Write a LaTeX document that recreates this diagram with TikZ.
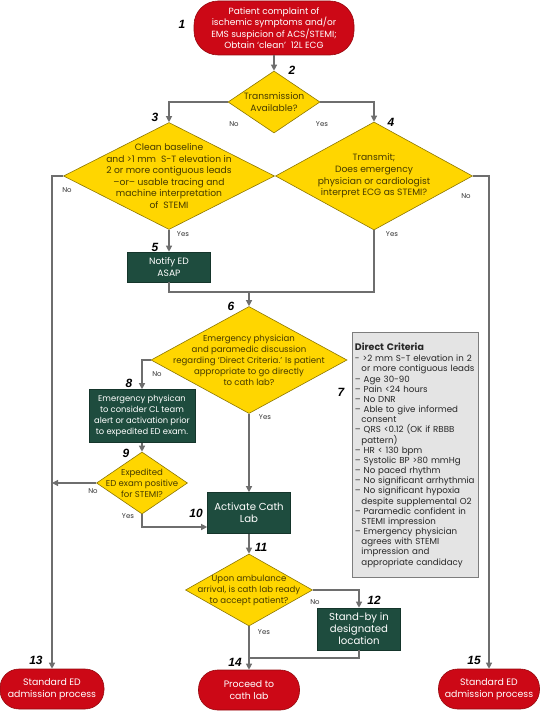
\documentclass[tikz,border=0pt]{standalone}
\usepackage{fontspec}
\setmainfont{Poppins}
\newfontfamily\numfont{Liberation Sans}
\usetikzlibrary{shapes.geometric, arrows.meta}

\definecolor{termred}{RGB}{204,8,22}
\definecolor{termedge}{RGB}{150,10,15}
\definecolor{decyellow}{RGB}{255,214,0}
\definecolor{decedge}{RGB}{140,118,0}
\definecolor{decink}{RGB}{70,58,0}
\definecolor{actgreen}{RGB}{30,76,62}
\definecolor{critgray}{RGB}{228,228,228}
\definecolor{critedge}{RGB}{125,125,125}
\definecolor{flowgray}{RGB}{110,110,110}

\newcommand{\critind}{\hspace*{6.5bp}}

\tikzstyle{nodetext}=[align=center, font=\fontsize{9.2}{11.6}\selectfont]
\tikzstyle{terminal}=[nodetext, rectangle, rounded corners=19bp, draw=termedge, fill=termred, text=white, line width=0.6bp, minimum width=101bp, minimum height=40bp, inner sep=2bp, font=\fontsize{9.4}{11.8}\selectfont]
\tikzstyle{decision}=[diamond, draw=decedge, fill=decyellow, line width=0.6bp, inner sep=0pt]
\tikzstyle{dectext}=[nodetext, text=decink, inner sep=0pt]
\tikzstyle{action}=[nodetext, rectangle, draw=actgreen!70!black, fill=actgreen, text=white, line width=0.6bp, inner sep=2bp]
\tikzstyle{criteria}=[rectangle, draw=critedge, fill=critgray, line width=0.9bp, align=left, text width=121bp, inner sep=2.5bp, font=\fontsize{8.7}{10.2}\selectfont, text=black!85]
\tikzstyle{steplabel}=[inner sep=0pt, font=\numfont\fontsize{12}{12}\selectfont\bfseries\itshape]
\tikzstyle{answer}=[inner sep=0pt, text=black!80, font=\fontsize{7}{8}\selectfont]
\tikzstyle{flow}=[draw=flowgray, line width=1.2bp]
\tikzstyle{flowarrow}=[flow, -{Triangle[length=6bp, width=6bp]}]

\begin{document}
\begin{tikzpicture}[x=1bp, y=-1bp]
  \useasboundingbox (0,0) rectangle (540,712);

  % Terminals
  \node (start) [terminal, minimum width=160bp, minimum height=54bp, rounded corners=24bp, font=\fontsize{9}{11.6}\selectfont] at (274,28) {Patient complaint of\\ischemic symptoms and/or\\EMS suspicion of ACS/STEMI;\\Obtain ‘clean’\ \ 12L ECG};
  \node (stdleft) [terminal, minimum width=104bp] at (52,689) {Standard ED\\admission process};
  \node (proceed) [terminal] at (249,690) {Proceed to\\cath lab};
  \node (stdright) [terminal] at (489,689) {Standard ED\\admission process};

  % Decisions
  \node (trans) [decision, minimum width=92bp, minimum height=62bp] at (274,102) {};
  \node (transtext) [dectext] at (trans) {Transmission\\Available?};
  \node (clean) [decision, minimum width=211bp, minimum height=107bp] at (169,176) {};
  \node (cleantext) [dectext] at (clean) {Clean baseline\\and >1 mm\ \ S-T elevation in\\2 or more contiguous leads\\–or– usable tracing and\\machine interpretation\\of\ \ STEMI};
  \node (transmit) [decision, minimum width=197bp, minimum height=108bp] at (374,176) {};
  \node (transmittext) [dectext] at (transmit) {Transmit;\\Does emergency\\physician or cardiologist\\interpret ECG as STEMI?};
  \node (discuss) [decision, minimum width=196bp, minimum height=107bp] at (249,360) {};
  \node (discusstext) [dectext, font=\fontsize{8.6}{11}\selectfont] at (discuss) {Emergency physician\\and paramedic discussion\\regarding ‘Direct Criteria.’ Is patient\\appropriate to go directly\\to cath lab?};
  \node (expedited) [decision, minimum width=91bp, minimum height=62bp] at (142,483) {};
  \node (expeditedtext) [dectext, font=\fontsize{8.6}{11}\selectfont] at (expedited) {Expedited\\ED exam positive\\for STEMI?};
  \node (ready) [decision, minimum width=127bp, minimum height=72bp] at (249,590) {};
  \node (readytext) [dectext, font=\fontsize{8.6}{11}\selectfont] at (ready) {Upon ambulance\\arrival, is cath lab ready\\to accept patient?};

  % Actions
  \node (notify) [action, minimum width=83bp, minimum height=30bp] at (169,267) {Notify ED\\ASAP};
  \node (consider) [action, minimum width=106bp, minimum height=53bp, font=\fontsize{8.4}{10.8}\selectfont] at (142,416) {Emergency physican\\to consider CL team\\alert or activation prior\\to expedited ED exam.};
  \node (activate) [action, minimum width=83bp, minimum height=41bp, font=\fontsize{10.2}{12}\selectfont] at (249,513) {Activate Cath\\Lab};
  \node (standby) [action, minimum width=83bp, minimum height=42bp, font=\fontsize{10.2}{12}\selectfont] at (359,629) {Stand-by in\\designated\\location};

  % Criteria
  \node (direct) [criteria, anchor=north west, minimum height=245bp] at (352,332) {{\fontsize{9.5}{12}\selectfont\bfseries Direct Criteria}\\[1.5bp]
    - >2 mm S-T elevation in 2\\ \critind or more contiguous leads\\
    – Age 30-90\\
    – Pain <24 hours\\
    – No DNR\\
    – Able to give informed\\ \critind consent\\
    – QRS <0.12 (OK if RBBB\\ \critind pattern)\\
    – HR < 130 bpm\\
    – Systolic BP >80 mmHg\\
    – No paced rhythm\\
    – No significant arrhythmia\\
    – No significant hypoxia\\ \critind despite supplemental O2\\
    – Paramedic confident in\\ \critind STEMI impression\\
    – Emergency physician\\ \critind agrees with STEMI\\ \critind impression and\\ \critind appropriate candidacy};

  % Step numbers
  \foreach \n/\x/\y in {1/182/24, 2/292/70, 3/155/117, 4/391/122, 5/155/247, 6/231/306, 7/341/392, 8/129/383,
                        9/126/453, 10/196/513, 11/261/547, 12/374/600, 13/36/660, 14/235/662, 15/474/660}
    \node (num\n) [steplabel] at (\x,\y) {\n};

  % Answers
  \node (transno) [answer] at (234,124) {No};
  \node (transyes) [answer] at (322,124) {Yes};
  \node (cleanno) [answer] at (67,190) {No};
  \node (cleanyes) [answer] at (183,234) {Yes};
  \node (transmitno) [answer] at (466,196) {No};
  \node (transmityes) [answer] at (392,234) {Yes};
  \node (discussno) [answer] at (157,374) {No};
  \node (discussyes) [answer] at (265,417) {Yes};
  \node (expeditedno) [answer] at (93,491) {No};
  \node (expeditedyes) [answer] at (128,516) {Yes};
  \node (readyno) [answer] at (315,602) {No};
  \node (readyyes) [answer] at (264,632) {Yes};

  % Arrows
  \coordinate (merge) at (249,292);
  \coordinate (rejoin) at (249,658);
  \draw [flowarrow] (start) -- (trans);
  \draw [flowarrow] (trans.west) -| (clean.north);
  \draw [flowarrow] (trans.east) -| (transmit.north);
  \draw [flowarrow] (clean.west) -| (stdleft.north);
  \draw [flowarrow] (transmit.east) -| (stdright.north);
  \draw [flowarrow] (clean) -- (notify);
  \draw [flow] (notify.south) |- (merge) -| (transmit.south);
  \draw [flowarrow] (merge) -- (discuss.north);
  \draw [flowarrow] (discuss.west) -| (consider.north);
  \draw [flowarrow] (discuss) -- (activate);
  \draw [flowarrow] (consider) -- (expedited);
  \draw [flowarrow] (expedited.west) -- (expedited.west -| stdleft.north);
  \draw [flowarrow] (expedited.south) |- ([yshift=-14bp]activate.west);
  \draw [flowarrow] (activate) -- (ready);
  \draw [flowarrow] (ready.east) -| (standby.north);
  \draw [flowarrow] (ready) -- (proceed);
  \draw [flow] (standby.south) |- (rejoin);
\end{tikzpicture}
\end{document}
